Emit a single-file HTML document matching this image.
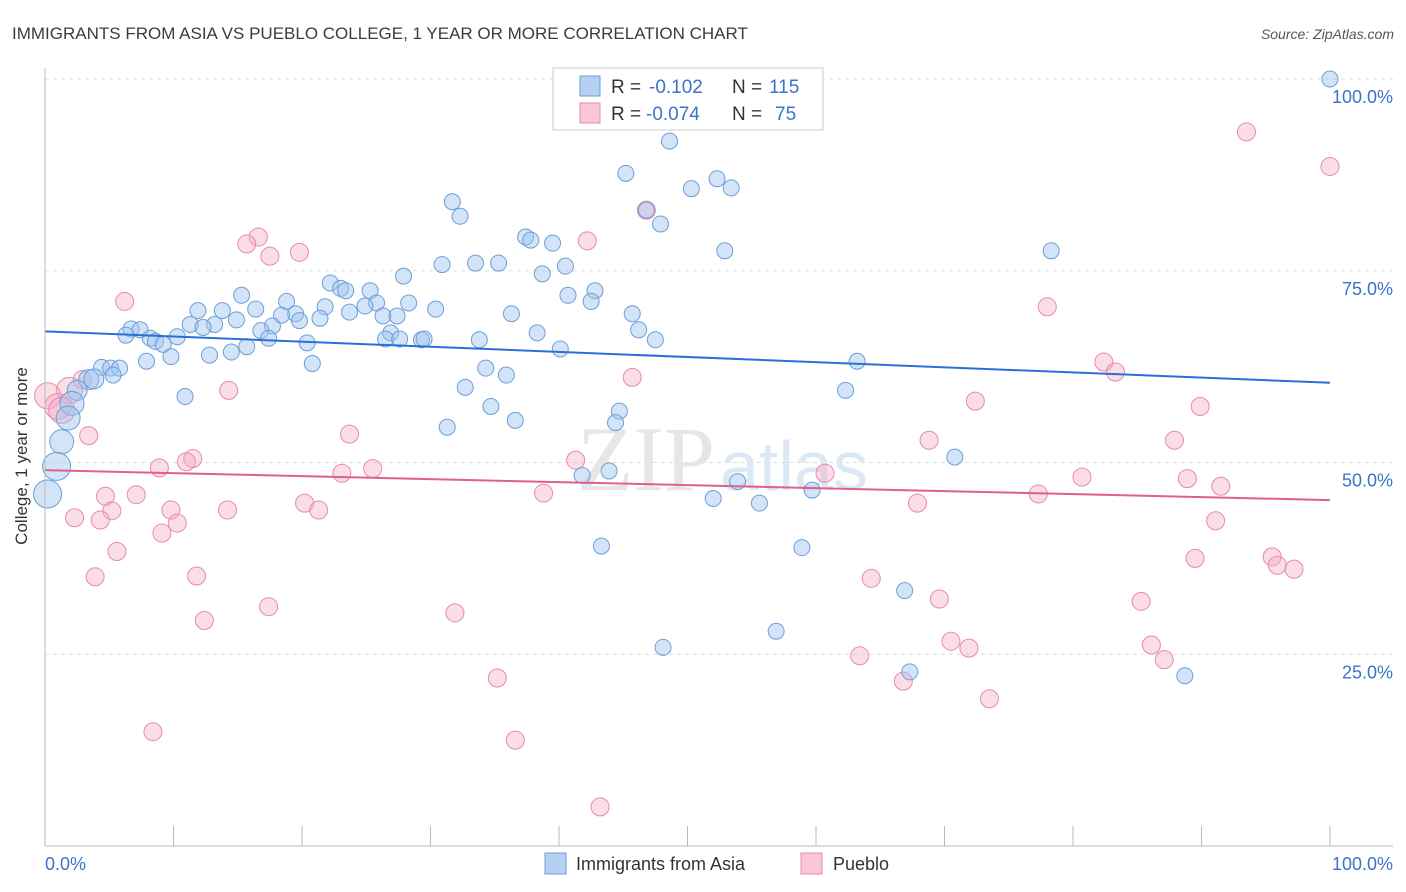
<!DOCTYPE html>
<html><head><meta charset="utf-8"><style>
body{margin:0;background:#fff;font-family:"Liberation Sans",sans-serif;}
svg{display:block}
</style></head><body>
<svg id="chart" width="1406" height="892" xmlns="http://www.w3.org/2000/svg">
<text x="12" y="39" font-size="17" fill="#3c3c3c">IMMIGRANTS FROM ASIA VS PUEBLO COLLEGE, 1 YEAR OR MORE CORRELATION CHART</text>
<text x="1394" y="39" font-size="14" fill="#555" font-style="italic" text-anchor="end">Source: ZipAtlas.com</text>
<g id="grid"></g>
<text x="715" y="490" font-size="92" fill="#e6e6e6" text-anchor="end" font-family="Liberation Serif">ZIP</text>
<text x="720" y="490" font-size="70" fill="#dde8f5">atlas</text>
<g id="points"></g>
<g id="lines"></g>
<line x1="45" y1="846" x2="1393" y2="846" stroke="#bbb"/>
<line x1="45" y1="68" x2="45" y2="846" stroke="#bbb"/>
<g id="ticks"></g>
<text x="27" y="456" font-size="17" fill="#333" text-anchor="middle" transform="rotate(-90 27 456)">College, 1 year or more</text>
<text x="45" y="870" font-size="18" fill="#3b73c8">0.0%</text>
<text x="1393" y="870" font-size="18" fill="#3b73c8" text-anchor="end">100.0%</text>
<g>
<rect x="553" y="68" width="270" height="62" fill="#fff" stroke="#ccc"/>
<rect x="580" y="76" width="20" height="20" fill="#b5d0f2" stroke="#6a9fd8"/>
<rect x="580" y="103" width="20" height="20" fill="#f8c6d6" stroke="#e88aa8"/>
<text x="611" y="93" font-size="19" fill="#333">R =</text>
<text x="649" y="93" font-size="19" fill="#3b73c8">-0.102</text>
<text x="732" y="93" font-size="19" fill="#333">N =</text>
<text x="769" y="93" font-size="19" fill="#3b73c8">115</text>
<text x="611" y="120" font-size="19" fill="#333">R =</text>
<text x="646" y="120" font-size="19" fill="#3b73c8">-0.074</text>
<text x="732" y="120" font-size="19" fill="#333">N =</text>
<text x="775" y="120" font-size="19" fill="#3b73c8">75</text>
</g>
<g>
<rect x="545" y="853" width="21" height="21" fill="#b5d0f2" stroke="#6a9fd8"/>
<text x="576" y="870" font-size="18" fill="#333">Immigrants from Asia</text>
<rect x="801" y="853" width="21" height="21" fill="#f8c6d6" stroke="#e88aa8"/>
<text x="833" y="870" font-size="18" fill="#333">Pueblo</text>
</g>
</svg>
<script>
const yTicks=[25,50,75,100];
const yTickLabels=["25.0%","50.0%","75.0%","100.0%"];
const xTicks=[0,10,20,30,40,50,60,70,80,90,100];
const asiaX=[100,48.6,45.2,52.3,50.3,53.4,46.8,47.9,31.7,32.3,37.4,37.8,39.5,52.9,78.3,30.9,33.5,35.3,40.5,38.7,27.9,22.2,23,23.4,25.3,42.8,40.7,42.5,15.3,18.8,28.3,25.8,24.9,21.8,30.4,16.4,11.9,13.8,23.7,19.5,18.4,36.3,45.7,26.3,27.4,21.4,14.9,19.8,11.3,13.2,12.3,17.7,6.7,7.4,16.8,38.3,46.2,26.9,6.3,17.4,8.2,10.3,8.6,26.5,27.6,29.3,29.5,33.8,47.5,9.2,20.4,15.7,14.5,40.1,12.8,9.8,7.9,20.8,63.2,4.4,5.1,5.8,34.3,35.9,5.3,3.4,3.8,32.7,2.5,62.3,10.9,2.1,34.7,44.7,1.8,36.6,44.4,31.3,1.3,70.8,0.9,43.9,41.8,53.9,59.7,0.2,52,55.6,43.3,58.9,66.9,56.9,48.1,67.3,88.7];
const asiaY=[100,91.9,87.7,87.0,85.7,85.8,82.9,81.1,84.0,82.1,79.4,79.0,78.6,77.6,77.6,75.8,76.0,76.0,75.6,74.6,74.3,73.4,72.7,72.4,72.4,72.4,71.8,71.0,71.8,71.0,70.8,70.8,70.4,70.3,70.0,70.0,69.8,69.8,69.6,69.4,69.2,69.4,69.4,69.1,69.1,68.8,68.6,68.5,68.0,68.0,67.6,67.8,67.4,67.3,67.2,66.9,67.3,66.9,66.6,66.2,66.2,66.4,65.8,66.1,66.1,66.0,66.1,66.0,66.0,65.4,65.6,65.1,64.4,64.8,64.0,63.8,63.2,62.9,63.2,62.4,62.3,62.3,62.3,61.4,61.4,60.8,60.9,59.8,59.4,59.4,58.6,57.7,57.3,56.7,55.8,55.5,55.2,54.6,52.7,50.7,49.5,48.9,48.3,47.5,46.4,45.9,45.3,44.7,39.1,38.9,33.3,28.0,25.9,22.7,22.2];
const pueX=[93.5,100,46.8,16.6,15.7,42.2,19.8,17.5,6.2,78.0,82.4,83.3,45.7,2.9,1.9,14.3,0.2,72.4,89.9,1.0,1.3,3.4,23.7,87.9,68.8,41.3,11.5,11.0,8.9,25.5,23.1,60.7,80.7,88.9,91.5,77.3,38.8,4.7,7.1,67.9,20.2,21.3,9.8,5.2,14.2,2.3,4.3,91.1,10.3,9.1,5.6,89.5,95.5,95.9,97.2,3.9,11.8,64.3,69.6,85.3,17.4,31.9,12.4,70.5,86.1,71.9,63.4,87.1,66.8,35.2,73.5,8.4,36.6,43.2];
const pueY=[93.1,88.6,82.9,79.4,78.5,78.9,77.4,76.9,71.0,70.3,63.1,61.8,61.1,60.8,59.4,59.4,58.7,58.0,57.3,57.3,56.8,53.5,53.7,52.9,52.9,50.3,50.5,50.1,49.3,49.2,48.6,48.6,48.1,47.9,46.9,45.9,46.0,45.6,45.8,44.7,44.7,43.8,43.8,43.7,43.8,42.8,42.5,42.4,42.1,40.8,38.4,37.5,37.7,36.6,36.1,35.1,35.2,34.9,32.2,31.9,31.2,30.4,29.4,26.7,26.2,25.8,24.8,24.3,21.5,21.9,19.2,14.9,13.8,5.1];
const asiaTrend=[67.1,60.4];
const pueTrend=[49.0,45.1];
const NS="http://www.w3.org/2000/svg";
const xs=v=>45+v*12.85, ys=v=>846-v*7.67;
function mk(tag,at,parent){const e=document.createElementNS(NS,tag);for(const k in at)e.setAttribute(k,at[k]);document.getElementById(parent).appendChild(e);return e;}
yTicks.forEach((t,i)=>{
 const l=mk('line',{x1:45,x2:1393,y1:ys(t),y2:ys(t),stroke:'#ddd','stroke-dasharray':'4 4'},'grid');
 
 
 const tx=mk('text',{x:1393,y:ys(t)+24,'font-size':18,fill:'#3b73c8','text-anchor':'end'},'ticks');
 tx.textContent=yTickLabels[i];
 
 
});
xTicks.forEach(t=>{
 const l=mk('line',{x1:xs(t),x2:xs(t),y1:826,y2:846,stroke:'#bbb'},'ticks');
 
 
});
pueX.forEach((x,i)=>{
 const r=(x<2)?13:9;
 const c=mk('circle',{cx:xs(x),cy:ys(pueY[i]),r:r,fill:'rgba(244,170,196,0.4)',stroke:'#e88aa8','stroke-width':1},'points');
 
 
});
asiaX.forEach((x,i)=>{
 const r=x<1?14:(x<2.2?12:(x<4?10:8));
 const c=mk('circle',{cx:xs(x),cy:ys(asiaY[i]),r:r,fill:'rgba(160,196,240,0.45)',stroke:'#6a9fd8','stroke-width':1},'points');
 
 
});
const bl=mk('line',{x1:xs(0),x2:xs(100),y1:ys(asiaTrend[0]),y2:ys(asiaTrend[1]),stroke:'#2a6fd6','stroke-width':2},'lines');


const pl=mk('line',{x1:xs(0),x2:xs(100),y1:ys(pueTrend[0]),y2:ys(pueTrend[1]),stroke:'#e0608a','stroke-width':2},'lines');


</script>
</body></html>
